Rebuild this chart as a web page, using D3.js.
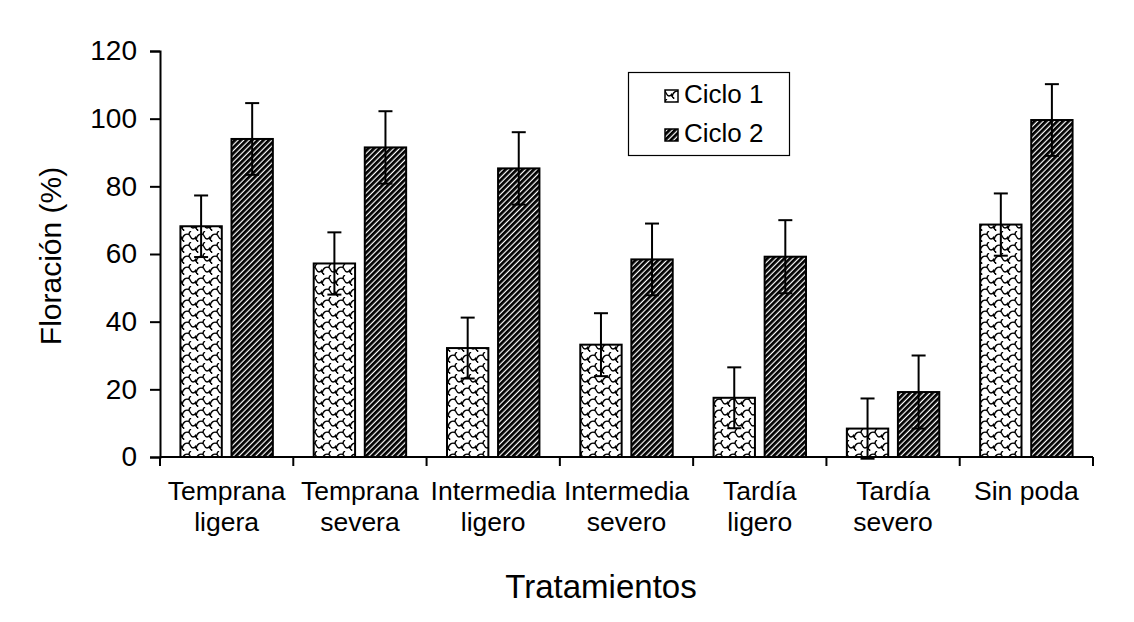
<!DOCTYPE html>
<html><head><meta charset="utf-8">
<script src="https://cdn.jsdelivr.net/npm/d3@7"></script>
<style>body{margin:0;background:#fff}svg{display:block;font-family:Arial,"Liberation Sans",sans-serif}</style>
</head><body><svg id="c" width="1134" height="622"></svg>
<script>
const categories = [["Temprana","ligera"],["Temprana","severa"],["Intermedia","ligero"],["Intermedia","severo"],["Tardía","ligero"],["Tardía","severo"],["Sin poda"]];
const seriesNames = ["Ciclo 1","Ciclo 2"];
const ciclo1 = [68.2, 57.2, 32.2, 33.2, 17.5, 8.4, 68.7];
const ciclo2 = [94.0, 91.5, 85.3, 58.4, 59.2, 19.2, 99.6];
const err1 = [9.1, 9.2, 9.0, 9.3, 9.0, 8.9, 9.2];
const err2 = [10.6, 10.7, 10.7, 10.6, 10.8, 10.8, 10.6];
const yTicks = [0,20,40,60,80,100,120];

const svg = d3.select("#c");
const m = {left:160, right:1093, top:51, bottom:457};
const x0 = d3.scaleBand().domain(d3.range(categories.length)).range([m.left, m.right]).padding(0);
const x1 = d3.scaleBand().domain([0,1]).range([0, x0.bandwidth()]).paddingInner(0.19).paddingOuter(0.4);
const y = d3.scaleLinear().domain([0,120]).range([m.bottom, m.top]);

const defs = svg.append("defs");
// Ciclo 2: dense diagonal stripes
const p2 = defs.append("pattern").attr("id","p2").attr("patternUnits","userSpaceOnUse")
  .attr("width",4).attr("height",4).attr("patternTransform","rotate(45)");
p2.append("rect").attr("width",4).attr("height",4).attr("fill","#fff");
p2.append("rect").attr("width",2.8).attr("height",4).attr("fill","#000");
// Ciclo 1: wave/shingle pattern
const p1 = defs.append("pattern").attr("id","p1").attr("patternUnits","userSpaceOnUse")
  .attr("width",14).attr("height",11);
p1.append("rect").attr("width",14).attr("height",11).attr("fill","#fff");
p1.append("path").attr("d","M0,9 C1,3.5 4,2.5 7,3.5 C8.5,4.5 8.5,8 11,8 C12.5,8 13.5,7 14,5.5 M7,3.5 C7,1.8 8,0.6 9,0 M1.5,11 C2,10 1.5,9.3 0,9 M14,9 C14,8 14,7 14,5.5")
  .attr("fill","none").attr("stroke","#000").attr("stroke-width",1.4);

const fills = ["url(#p1)","url(#p2)"];
const vals = [ciclo1, ciclo2];
const errs = [err1, err2];

seriesNames.forEach((s, si) => {
  svg.append("g").selectAll("rect").data(vals[si]).join("rect")
    .attr("x",(d,i)=>x0(i)+x1(si)).attr("width",x1.bandwidth())
    .attr("y",d=>y(d)).attr("height",d=>y(0)-y(d))
    .attr("fill",fills[si]).attr("stroke","#000").attr("stroke-width",2);
});
seriesNames.forEach((s, si) => {
  const g = svg.append("g").attr("stroke","#000").attr("stroke-width",2);
  vals[si].forEach((d,i)=>{
    const cx = x0(i)+x1(si)+x1.bandwidth()/2;
    g.append("line").attr("x1",cx).attr("x2",cx).attr("y1",y(d-errs[si][i])).attr("y2",y(d+errs[si][i]));
    [d-errs[si][i], d+errs[si][i]].forEach(v=>{
      g.append("line").attr("x1",cx-7).attr("x2",cx+7).attr("y1",y(v)).attr("y2",y(v));
    });
  });
});

const ya = svg.append("g").attr("transform",`translate(${m.left},0)`)
  .call(d3.axisLeft(y).tickValues(yTicks).tickSize(10).tickPadding(13));
ya.select(".domain").attr("stroke","#000").attr("stroke-width",2);
ya.selectAll(".tick line").attr("stroke","#000").attr("stroke-width",2);
ya.selectAll(".tick text").attr("font-size",28).attr("fill","#000").attr("font-family","Arial, 'Liberation Sans', sans-serif");

const bounds = d3.range(categories.length+1).map(i => i<categories.length ? x0(i) : m.right);
svg.append("line").attr("x1",m.left).attr("x2",m.right).attr("y1",y(0)).attr("y2",y(0)).attr("stroke","#000").attr("stroke-width",2);
svg.append("g").selectAll("line").data(bounds).join("line")
  .attr("x1",d=>d).attr("x2",d=>d).attr("y1",y(0)).attr("y2",y(0)+9).attr("stroke","#000").attr("stroke-width",2);
const xl = svg.append("g");
categories.forEach((c,i)=>{
  const t = xl.append("text").attr("x",x0(i)+x0.bandwidth()/2).attr("y",500).attr("text-anchor","middle").attr("font-size",26.5).attr("fill","#000");
  c.forEach((line,li)=>t.append("tspan").attr("x",x0(i)+x0.bandwidth()/2).attr("dy",li===0?0:31).text(line));
});

svg.append("text").attr("x",601).attr("y",598).attr("text-anchor","middle").attr("font-size",33).attr("fill","#000").text("Tratamientos");
svg.append("text").attr("transform","translate(61,256) rotate(-90)").attr("text-anchor","middle").attr("font-size",30).attr("fill","#000").text("Floración (%)");

const lg = svg.append("g");
lg.append("rect").attr("x",628.5).attr("y",72.5).attr("width",161).attr("height",83).attr("fill","#fff").attr("stroke","#000").attr("stroke-width",1.2);
seriesNames.forEach((s,si)=>{
  const yy = 103 + si*39;
  lg.append("rect").attr("x",665).attr("y",yy-13).attr("width",13).attr("height",12).attr("fill",fills[si]).attr("stroke","#000").attr("stroke-width",1.5);
  lg.append("text").attr("x",684).attr("y",yy).attr("font-size",26).attr("fill","#000").text(s);
});
</script></body></html>
